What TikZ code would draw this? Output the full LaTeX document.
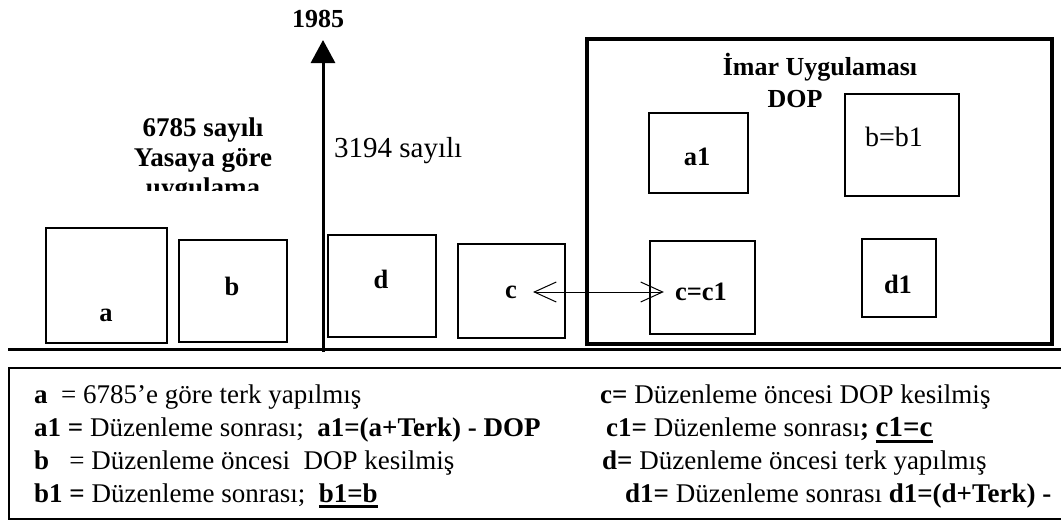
\documentclass[tikz,border=0pt]{standalone}
\usepackage{fontspec}
\setmainfont{Liberation Serif}
\usetikzlibrary{arrows.meta}
\newcommand{\setfsz}[1]{\fontsize{#1}{#1}\selectfont}
\newcommand{\myul}[3]{\leavevmode\setbox0\hbox{#3}\rlap{\rule[-#1]{\wd0}{#2}}\box0}
\begin{document}
\begin{tikzpicture}[x=1pt,y=-1pt,
  plot/.style={draw, line width=1.5pt, inner sep=0pt},
  lbl/.style={inner sep=0pt, font=\bfseries\setfsz{26.5}},
  leg/.style={anchor=base west, inner sep=0pt, font=\setfsz{27}},
  title/.style={anchor=base, inner sep=0pt, font=\bfseries\setfsz{27}},
  thickline/.style={line width=3pt},
  barb/.style={line width=1pt, {Straight Barb[length=22pt,width=20pt]}-{Straight Barb[length=22pt,width=20pt]}}]
\useasboundingbox (0,0) rectangle (1061,520);

% ground line and time axis
\coordinate (g1) at (8,349);
\coordinate (g2) at (1064,349);
\draw[thickline] (g1) -- (g2);
\coordinate (axb) at (323,352);
\coordinate (axt) at (323,40);
\draw[thickline, -{Triangle[length=23pt,width=24pt]}] (axb) -- (axt);
\node[title, font=\bfseries\setfsz{26}] (year) at (318,27) {1985};

% left titles
\begin{scope}
\clip (90,90) rectangle (320,190);
\node[title] (t1) at (203,136) {6785 sayılı};
\node[title] (t2) at (203,166) {Yasaya göre};
\node[title] (t3) at (203,196) {uygulama};
\end{scope}
\node[anchor=base west, inner sep=0pt, font=\setfsz{29}] (t4) at (334,157) {3194 sayılı};

% parcels before
\node[plot, minimum width=121pt, minimum height=115pt] (ba) at (106.5,285.5) {};
\node[plot, minimum width=108pt, minimum height=102pt] (bb) at (233,291) {};
\node[plot, minimum width=108pt, minimum height=102pt] (bd) at (382,286) {};
\node[plot, minimum width=107pt, minimum height=94pt] (bc) at (511.5,291) {};
\node[lbl] (la) at (106,315) {a};
\node[lbl] (lb) at (232,286) {b};
\node[lbl] (ld) at (381,279) {d};
\node[lbl] (lc) at (511,292) {c};

% application frame
\node[draw, line width=3.5pt, inner sep=0pt, minimum width=465pt, minimum height=305pt] (frame) at (819.5,191.5) {};
\node[title, font=\bfseries\setfsz{26}] (imar) at (820,75) {İmar Uygulaması};
\node[title, font=\bfseries\setfsz{26}] (dop) at (795,107) {DOP};
\node[plot, minimum width=99pt, minimum height=80pt] (ba1) at (698.5,153) {};
\node[plot, minimum width=114pt, minimum height=102pt] (bb1) at (902,145) {};
\node[plot, minimum width=105pt, minimum height=93pt] (bc1) at (702.5,287.5) {};
\node[plot, minimum width=74pt, minimum height=78pt] (bd1) at (899,278) {};
\node[lbl] (la1) at (697,157) {a1};
\node[inner sep=0pt, font=\setfsz{28}] (lb1) at (894,137) {b=b1};
\node[lbl] (lcc) at (701,292) {c=c1};
\node[lbl] (ld1) at (898,284) {d1};

\draw[barb, shorten <=16pt, shorten >=11pt] (lc.east) -- (lcc.west);

% legend
\node[draw, line width=1.5pt, inner sep=0pt, minimum width=1056pt, minimum height=151pt, anchor=north west] (legend) at (8,367) {};
\node[leg] (l1) at (34,403) {\textbf{a}\ \ = 6785’e göre terk yapılmış};
\node[leg] (l2) at (34,436) {\textbf{a1 =} Düzenleme sonrası;\ \ \textbf{a1=(a+Terk) - DOP}};
\node[leg] (l3) at (34,469) {\textbf{b}\ \ \ = Düzenleme öncesi\ \ DOP kesilmiş};
\node[leg] (l4) at (34,502) {\textbf{b1 =} Düzenleme sonrası;\ \ \myul{6pt}{3pt}{\textbf{b1=b}}};
\node[leg] (r1) at (600,403) {\textbf{c=} Düzenleme öncesi DOP kesilmiş};
\node[leg] (r2) at (606,436) {\textbf{c1=} Düzenleme sonrası\textbf{; {\setfsz{29}\myul{7pt}{3.5pt}{c1=c}}}};
\node[leg] (r3) at (602,469) {\textbf{d=} Düzenleme öncesi terk yapılmış};
\node[leg] (r4) at (625,502) {\textbf{d1=} Düzenleme sonrası \textbf{d1=(d+Terk) -}};
\end{tikzpicture}
\end{document}
